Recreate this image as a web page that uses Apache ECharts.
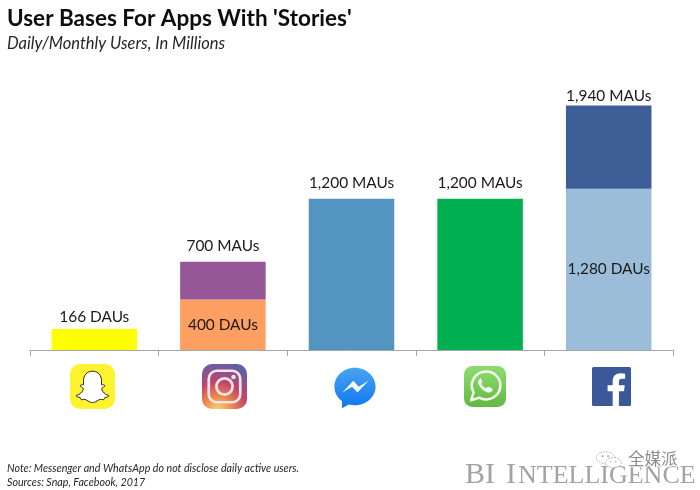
<!DOCTYPE html>
<html>
<head>
<meta charset="utf-8">
<title>User Bases For Apps With 'Stories'</title>
<script src="https://cdn.jsdelivr.net/npm/echarts@6/dist/echarts.min.js"></script>
<style>
  html, body { margin: 0; padding: 0; background: #fff; }
  #main { width: 700px; height: 490px; }
</style>
</head>
<body>
<div id="main"></div>
<script>
// data
var categories = ['Snapchat', 'Instagram', 'Messenger', 'WhatsApp', 'Facebook'];
var dauValues = [166, 400, null, null, 1280];
var mauValues = [null, 700, 1200, 1200, 1940];
var dauColors = ['#ffff00', '#fd9f60', null, null, '#9bbdd9'];
var mauColors = [null, '#955795', '#5494c0', '#00b050', '#3c5d95'];

var FONT = 'Lato, "Noto Sans", sans-serif';

function fmt(v) {
    return String(v).replace(/\B(?=(\d{3})+$)/g, ',');
}

// app icons, drawn as small inline svg
function svg(body) {
    return 'data:image/svg+xml;charset=utf-8,' + encodeURIComponent(
        '<svg xmlns="http://www.w3.org/2000/svg" viewBox="0 0 100 100" width="200" height="200">' + body + '</svg>');
}
var snapIcon = svg('<rect width="100" height="100" rx="22" fill="#fff22e"/>' +
    '<path d="M50 16c13 0 20 10 20 21v9c3 1 6-1 7 2s-6 5-7 7c2 8 9 13 16 15 1 3-6 4-9 5-1 3-1 5-4 4-5-1-9 0-13 3-7 5-13 5-20 0-4-3-8-4-13-3-3 1-3-1-4-4-3-1-10-2-9-5 7-2 14-7 16-15-1-2-8-4-7-7s4-1 7-2v-9c0-11 7-21 20-21z" fill="#fff" stroke="#111" stroke-width="2"/>');
var instaIcon = svg('<defs><radialGradient id="g" cx="35%" cy="105%" r="110%">' +
    '<stop offset="0" stop-color="#fbd77f"/><stop offset=".3" stop-color="#ec8a4c"/><stop offset=".6" stop-color="#c0436d"/><stop offset="1" stop-color="#5a62a8"/></radialGradient></defs>' +
    '<rect width="100" height="100" rx="22" fill="url(#g)"/>' +
    '<rect x="15" y="15" width="70" height="70" rx="18" fill="none" stroke="#f6e4e4" stroke-width="6"/>' +
    '<circle cx="50" cy="50" r="18" fill="none" stroke="#f6e4e4" stroke-width="6"/><circle cx="70" cy="29" r="5" fill="#f6e4e4"/>');
var messengerIcon = svg('<defs><linearGradient id="m" x1="0" y1="0" x2="0" y2="1"><stop offset="0" stop-color="#4aa3f2"/><stop offset="1" stop-color="#0f78f0"/></linearGradient></defs>' +
    '<path d="M50 2C23 2 1 22 1 47c0 14 7 26 18 34v17l16-9c5 1 10 2 15 2 27 0 49-20 49-44S77 2 50 2z" fill="url(#m)"/>' +
    '<path d="M20 61l26-28 13 14 23-14-26 28-13-14z" fill="#fff"/>');
var whatsappIcon = svg('<defs><linearGradient id="w" x1="0" y1="0" x2="0" y2="1"><stop offset="0" stop-color="#8fdc6e"/><stop offset="1" stop-color="#62b945"/></linearGradient></defs>' +
    '<rect width="100" height="100" rx="20" fill="url(#w)"/>' +
    '<path d="M17 84l6-20a34 34 0 1 1 13 13z" fill="none" stroke="#f4fbef" stroke-width="6" stroke-linejoin="round"/>' +
    '<path d="M38 31c-5 3-6 9-3 15 4 8 11 15 20 18 6 2 11 0 13-4 1-3 0-5-2-6l-7-3c-2-1-3 0-4 1l-2 2c-5-2-9-6-12-11l2-3c1-1 1-2 0-4l-3-6c-1-1-2-1-2 1z" fill="#f4fbef"/>');
var facebookIcon = svg('<rect width="100" height="100" rx="4" fill="#3b5998"/>' +
    '<path d="M69 100V62h13l2-15H69v-9c0-5 2-8 8-8h8V17c-3 0-7-1-12-1-12 0-20 7-20 21v10H40v15h13v38z" fill="#fff"/>');
var wechatMark = svg('<g fill="#fff" stroke="#a0a0a0" stroke-width="3" stroke-dasharray="7 4">' +
    '<ellipse cx="38" cy="40" rx="33" ry="27"/><ellipse cx="66" cy="62" rx="28" ry="23"/></g>' +
    '<g fill="#a0a0a0"><circle cx="27" cy="32" r="4"/><circle cx="47" cy="32" r="4"/><circle cx="56" cy="57" r="3"/><circle cx="74" cy="57" r="3"/></g>');

function icon(image, x, y, w, h) {
    return { type: 'image', x: x, y: y, style: { image: image, x: 0, y: 0, width: w, height: h } };
}

var labelStyle = { fontFamily: FONT, fontSize: 15.4, color: '#1a1a1a' };

var chart = echarts.init(document.getElementById('main'), null, { renderer: 'canvas' });

chart.setOption({
    animation: false,
    backgroundColor: '#fff',
    title: [
        { text: "User Bases For Apps With 'Stories'", left: 2, top: 2,
          textStyle: { fontFamily: FONT, fontSize: 22.5, fontWeight: 'bold', color: '#0d0d0d' } },
        { text: 'Daily/Monthly Users, In Millions', left: 2, top: 30,
          textStyle: { fontFamily: FONT, fontSize: 16.5, fontStyle: 'italic', fontWeight: 'normal', color: '#262626' } },
        { text: 'Note: Messenger and WhatsApp do not disclose daily active users.', left: 2, top: 458,
          textStyle: { fontFamily: FONT, fontSize: 10.7, fontStyle: 'italic', fontWeight: 'normal', color: '#262626' } },
        { text: 'Sources: Snap, Facebook, 2017', left: 2, top: 472,
          textStyle: { fontFamily: FONT, fontSize: 10.7, fontStyle: 'italic', fontWeight: 'normal', color: '#262626' } }
    ],
    grid: { left: 30, top: 98, width: 643, height: 252 },
    xAxis: {
        type: 'category',
        data: categories,
        axisLine: { lineStyle: { color: '#a6a6a6', width: 1 } },
        axisTick: { show: true, length: 6, alignWithLabel: false, lineStyle: { color: '#a6a6a6' } },
        axisLabel: { show: false }
    },
    yAxis: { type: 'value', min: 0, max: 2000, show: false, splitLine: { show: false } },
    series: [
        {
            name: 'DAUs',
            type: 'bar',
            stack: 'users',
            barWidth: '66.5%',
            data: categories.map(function (c, i) {
                var onlyDau = mauValues[i] === null;
                return {
                    value: dauValues[i],
                    itemStyle: { color: dauColors[i] },
                    label: Object.assign({
                        show: dauValues[i] !== null,
                        position: onlyDau ? 'top' : 'inside',
                        formatter: fmt(dauValues[i]) + ' DAUs'
                    }, labelStyle)
                };
            })
        },
        {
            // part of the monthly users above the daily users
            name: 'MAUs',
            type: 'bar',
            stack: 'users',
            data: categories.map(function (c, i) {
                if (mauValues[i] === null) {
                    return { value: null };
                }
                return {
                    value: mauValues[i] - (dauValues[i] || 0),
                    itemStyle: { color: mauColors[i] },
                    label: Object.assign({
                        show: true,
                        position: 'top',
                        distance: i === 4 ? 2 : 8,
                        formatter: fmt(mauValues[i]) + ' MAUs'
                    }, labelStyle)
                };
            })
        }
    ],
    graphic: [
        icon(snapIcon, 70, 364, 45, 45),
        icon(instaIcon, 202, 364, 45, 45),
        icon(messengerIcon, 334, 367, 42, 42),
        icon(whatsappIcon, 464, 366, 42, 41),
        icon(facebookIcon, 592, 367, 39, 39),
        { type: 'text', x: 465, y: 460, style: { text: 'BI', font: '30px "Liberation Serif"', fill: '#a3a3a3' } },
        { type: 'text', x: 506, y: 460, style: { text: 'I', font: '30px "Liberation Serif"', fill: '#a3a3a3' } },
        { type: 'text', x: 518, y: 463, style: { text: 'NTELLIGENCE', font: '26px "Liberation Serif"', fill: '#a3a3a3' } },
        icon(wechatMark, 595, 449, 28, 22),
        { type: 'text', x: 628, y: 450, style: { text: '全媒派', font: '16.5px "Noto Sans CJK SC"', fill: '#8c8c8c', stroke: '#fff', lineWidth: 2 } }
    ]
});
</script>
</body>
</html>
